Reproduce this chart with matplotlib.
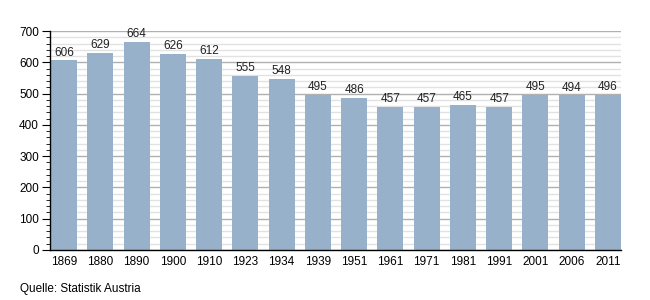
import matplotlib
matplotlib.use('Agg')
import matplotlib.pyplot as plt
from matplotlib.ticker import MultipleLocator

years = ['1869', '1880', '1890', '1900', '1910', '1923', '1934', '1939',
         '1951', '1961', '1971', '1981', '1991', '2001', '2006', '2011']
population = [606, 629, 664, 626, 612, 555, 548, 495,
              486, 457, 457, 465, 457, 495, 494, 496]

plt.rcParams['font.family'] = ['Liberation Sans', 'DejaVu Sans']

fig = plt.figure(figsize=(6.5, 3), dpi=100)
ax = fig.add_axes([50 / 650, 50 / 300, 571 / 650, 219 / 300])
ax.set_axisbelow(True)

x = range(len(years))
bars = ax.bar(x, population, width=0.72, color='#97b1cb')
for b, v in zip(bars, population):
    ax.text(b.get_x() + b.get_width() / 2, v + 6, str(v),
            ha='center', va='bottom', fontsize=8.5, color='#222222')

ax.set_ylim(0, 700)
ax.set_xlim(-0.39, 15.36)
ax.yaxis.set_major_locator(MultipleLocator(100))
ax.yaxis.set_minor_locator(MultipleLocator(20))
ax.grid(axis='y', which='major', color='#b0b0b0', linewidth=1)
ax.grid(axis='y', which='minor', color='#e2e2e2', linewidth=1)

ax.set_xticks(list(x))
ax.set_xticklabels(years)
ax.tick_params(axis='x', length=0, labelsize=8.5, pad=4)
ax.tick_params(axis='y', which='major', length=6, direction='out', labelsize=8.5, pad=2)
ax.tick_params(axis='y', which='minor', length=3, direction='out')

for s in ['top', 'right']:
    ax.spines[s].set_visible(False)
ax.spines['left'].set_linewidth(1)
ax.spines['bottom'].set_linewidth(1)

fig.text(20 / 650, 1 - 289 / 300, 'Quelle: Statistik Austria', fontsize=8.5,
         va='center', ha='left')

fig.savefig('out.png', dpi=100)
